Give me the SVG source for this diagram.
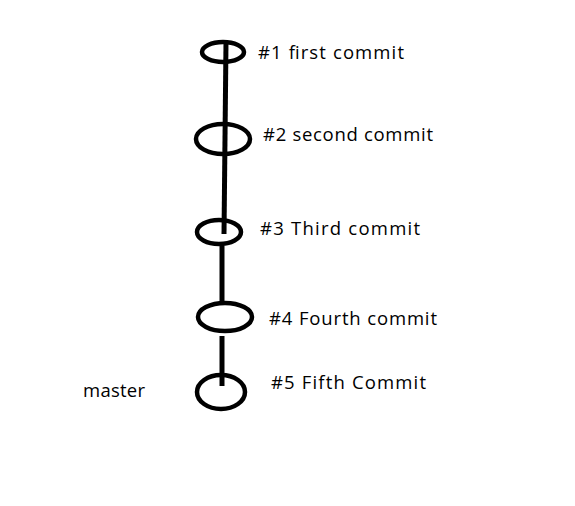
<svg xmlns="http://www.w3.org/2000/svg" width="575" height="506" viewBox="0 0 575 506">
<style>
.n{fill:none;stroke:#000;stroke-width:4.5}
.c{stroke:#000;stroke-width:5;fill:none}
text{font-family:"Comic Sans MS","Open Sans","DejaVu Sans",sans-serif;font-size:18.5px;fill:#000}
</style>
<rect width="575" height="506" fill="#fff"/>
<g id="connectors">
<line class="c" x1="226" y1="42" x2="224" y2="234"/>
<line class="c" x1="222" y1="246" x2="222" y2="302"/>
<line class="c" x1="222" y1="336" x2="222" y2="386"/>
</g>
<g id="c1"><ellipse class="n" cx="223" cy="52" rx="21" ry="10"/><text x="258" y="59" textLength="146">#1 first commit</text></g>
<g id="c2"><ellipse class="n" cx="223" cy="139" rx="27" ry="15"/><text x="263" y="141" textLength="170">#2 second commit</text></g>
<g id="c3"><ellipse class="n" cx="219" cy="232" rx="22" ry="12"/><text x="260" y="235" textLength="160">#3 Third commit</text></g>
<g id="c4"><ellipse class="n" cx="225" cy="317" rx="27" ry="14"/><text x="269" y="325" textLength="168">#4 Fourth commit</text></g>
<g id="c5"><ellipse class="n" cx="221" cy="392" rx="24" ry="17"/><text x="271" y="389" textLength="155">#5 Fifth Commit</text></g>
<g id="master"><text x="83" y="397" textLength="62">master</text></g>
</svg>
